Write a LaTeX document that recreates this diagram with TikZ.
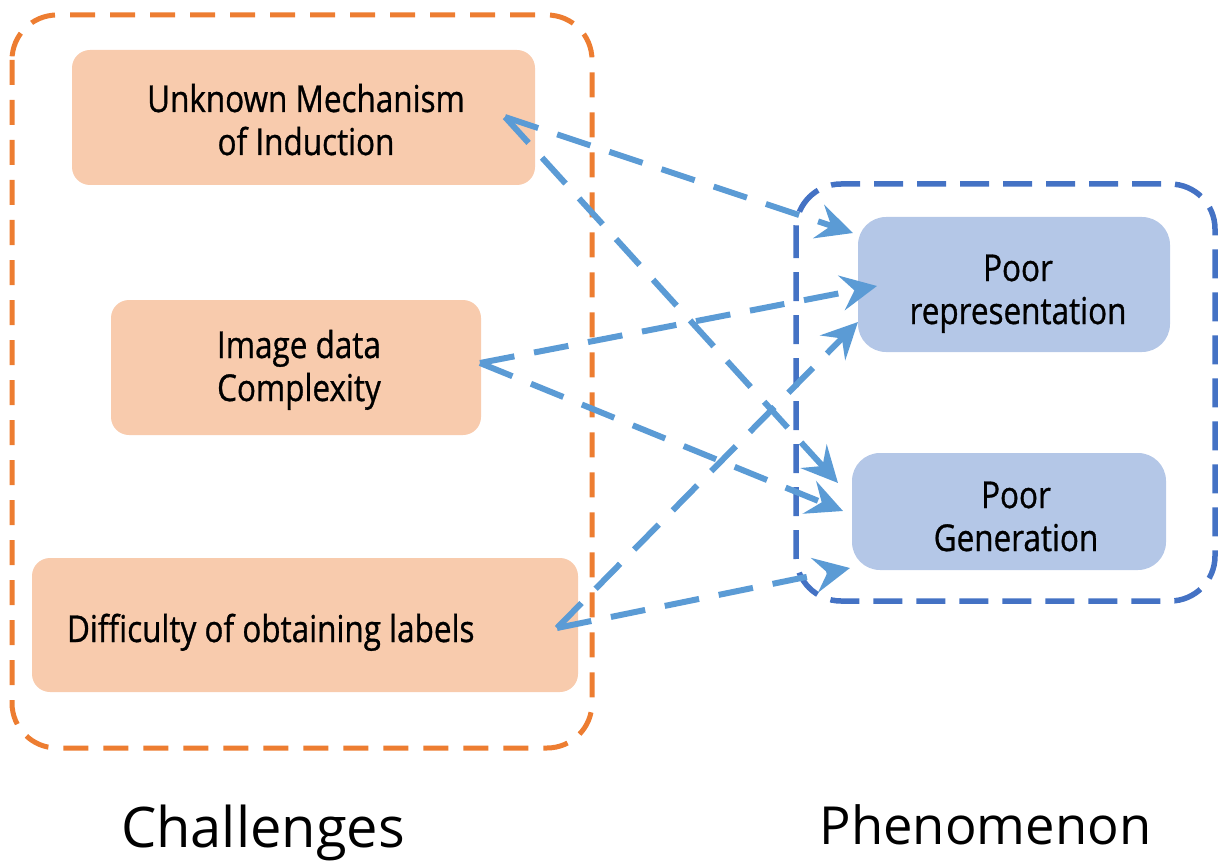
\documentclass[tikz,border=0pt]{standalone}
\usepackage{fontspec}
\setmainfont{Open Sans}
\newfontfamily\boxfont[FakeStretch=0.85, FakeBold=0.8]{Open Sans}
\usetikzlibrary{arrows.meta}

\definecolor{chalOrange}{HTML}{ED7D31}
\definecolor{chalFill}{HTML}{F8CBAD}
\definecolor{phenBlue}{HTML}{4472C4}
\definecolor{phenFill}{HTML}{B4C7E7}
\definecolor{linkBlue}{HTML}{5B9BD5}

% centred lines: #1 = twice the horizontal offset, #2 = raise of the first baseline
\newcommand\stackedlabel[3]{\raisebox{#2}{\makebox[0pt]{\hspace*{#1}\begin{tabular}[t]{@{}c@{}}#3\end{tabular}}}}
% flush-left line: #1 = left edge offset, #2 = raise of the baseline
\newcommand\flushlabel[3]{\raisebox{#2}{\makebox[0pt][l]{\hspace*{#1}#3}}}

\tikzset{
  boxtext/.style={font={\boxfont\fontsize{37}{43}\selectfont}, text=black,
    text height=0pt, text depth=0pt, inner sep=0pt},
  chalbox/.style={boxtext, fill=chalFill, draw=none, rounded corners=18pt},
  phenbox/.style={boxtext, fill=phenFill, draw=none, rounded corners=28pt},
  groupframe/.style={rounded corners=45pt},
  link/.style={linkBlue, line width=6pt, dash pattern=on 35pt off 20pt,
    -{Stealth[length=36pt, width=35pt, inset=13pt]}},
  caption/.style={anchor=base, text=black, inner sep=0pt}
}

\begin{document}
\begin{tikzpicture}[x=1pt, y=-1pt]
  \useasboundingbox (0,0) rectangle (1218,861);

  % group frames
  \draw[groupframe, chalOrange, line width=5pt, dash pattern=on 25pt off 15pt]
    (12,15) rectangle (592,748);
  \draw[groupframe, phenBlue, line width=5.5pt, dash pattern=on 29pt off 14pt]
    (796,184) rectangle (1215,601);

  % challenge boxes
  \node[chalbox, minimum width=463pt, minimum height=135pt] (unknown) at (303.5,117.5)
    {\stackedlabel{5pt}{5.5pt}{Unknown Mechanism\\of Induction}};
  \node[chalbox, minimum width=370pt, minimum height=135pt] (image) at (296,367.5)
    {\stackedlabel{6pt}{9.5pt}{Image data\\Complexity}};
  \node[chalbox, minimum width=546pt, minimum height=134pt] (difficulty) at (305,625)
    {\flushlabel{-238pt}{-17pt}{Difficulty of obtaining labels}};

  % phenomenon boxes
  \node[phenbox, minimum width=312pt, minimum height=135pt] (rep) at (1014,284.5)
    {\stackedlabel{8pt}{3.5pt}{Poor\\representation}};
  \node[phenbox, minimum width=314pt, minimum height=117pt] (gen) at (1009,511.5)
    {\stackedlabel{14pt}{3.5pt}{Poor\\Generation}};

  % captions
  \node[caption, font=\fontsize{56}{60}\selectfont] (challenges) at (263,847) {Challenges};
  \node[caption, font=\fontsize{52.5}{60}\selectfont] (phenomenon) at (985.5,844) {Phenomenon};

  % link end points
  \coordinate (unknown-out) at (505,117);
  \coordinate (image-out) at (480,363);
  \coordinate (difficulty-out) at (557,628);
  \coordinate (rep-in-a) at (853,233);
  \coordinate (rep-in-b) at (877,286);
  \coordinate (rep-in-c) at (858,322);
  \coordinate (gen-in-a) at (838,483);
  \coordinate (gen-in-b) at (843,511);
  \coordinate (gen-in-c) at (850,568);

  % links
  \draw[link] (unknown-out) -- (rep-in-a);
  \draw[link] (unknown-out) -- (gen-in-a);
  \draw[link] (image-out) -- (rep-in-b);
  \draw[link] (image-out) -- (gen-in-b);
  \draw[link] (difficulty-out) -- (rep-in-c);
  \draw[link] (difficulty-out) -- (gen-in-c);
\end{tikzpicture}
\end{document}
